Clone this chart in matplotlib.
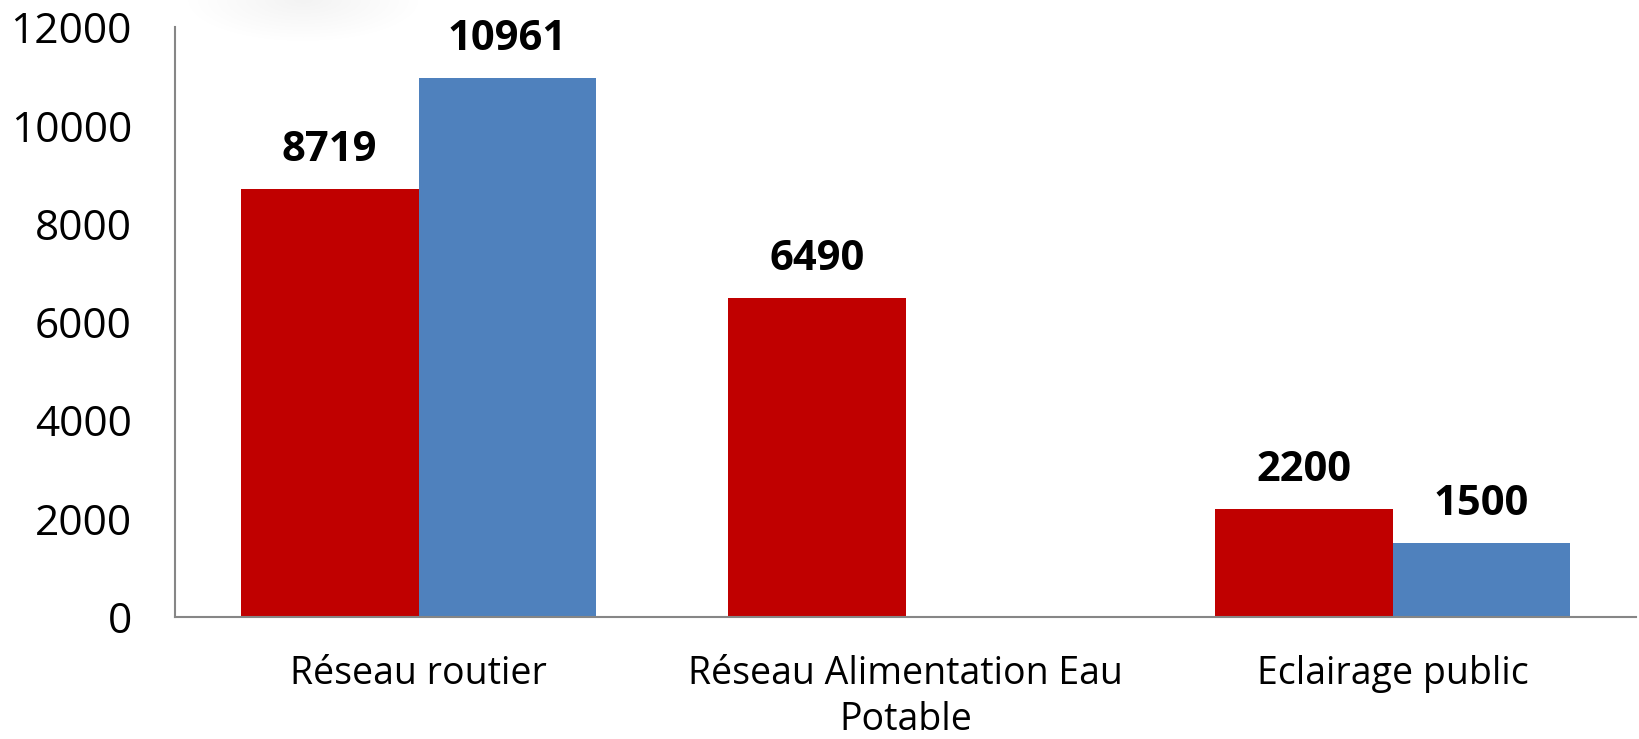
import numpy as np
import matplotlib
matplotlib.use("Agg")
import matplotlib.pyplot as plt
from matplotlib.patches import Ellipse

plt.rcParams["font.family"] = ["Open Sans", "DejaVu Sans"]

categories = ["Réseau routier", "Réseau Alimentation Eau\nPotable", "Eclairage public"]
serie_rouge = [8719, 6490, 2200]
serie_bleue = [10961, None, 1500]
yticks = [0, 2000, 4000, 6000, 8000, 10000, 12000]

ROUGE = "#C00000"
BLEU = "#4F81BD"
GRIS = "#868686"

fig = plt.figure(figsize=(16.4, 7.39), dpi=100)

# tache grise tres pale en haut (ombre floue de l'image d'origine)
for k in range(12):
    f = 1 - k / 12
    fig.patches.append(Ellipse((0.185, 1.0), 0.14 * f, 0.11 * f, transform=fig.transFigure,
                               facecolor="#909090", edgecolor="none", alpha=0.008, zorder=0))

ax = fig.add_axes([0.1067, 0.165, 0.891, 0.798])
ax.patch.set_alpha(0)

x = np.arange(len(categories))
w = 0.365

for i, v in enumerate(serie_rouge):
    ax.bar(x[i] - w / 2, v, width=w, color=ROUGE)
    ax.annotate(str(v), (x[i] - w / 2, v), xytext=(0, 13), textcoords="offset points",
                ha="center", va="bottom", fontsize=30, fontweight="bold")
for i, v in enumerate(serie_bleue):
    if v is None:
        continue
    ax.bar(x[i] + w / 2, v, width=w, color=BLEU)
    ax.annotate(str(v), (x[i] + w / 2, v), xytext=(0, 13), textcoords="offset points",
                ha="center", va="bottom", fontsize=30, fontweight="bold")

ax.set_xlim(-0.5, 2.5)
ax.set_ylim(0, 12000)
ax.set_yticks(yticks)
ax.set_yticklabels([str(t) for t in yticks], fontsize=30.5)
ax.set_xticks(x)
ax.set_xticklabels(categories, fontsize=27, linespacing=1.3)
ax.tick_params(axis="y", length=0, pad=31)
ax.tick_params(axis="x", length=0, pad=27)

for s in ["top", "right"]:
    ax.spines[s].set_visible(False)
for s in ["left", "bottom"]:
    ax.spines[s].set_color(GRIS)
    ax.spines[s].set_linewidth(1.5)

fig.savefig("out.png", dpi=100)
